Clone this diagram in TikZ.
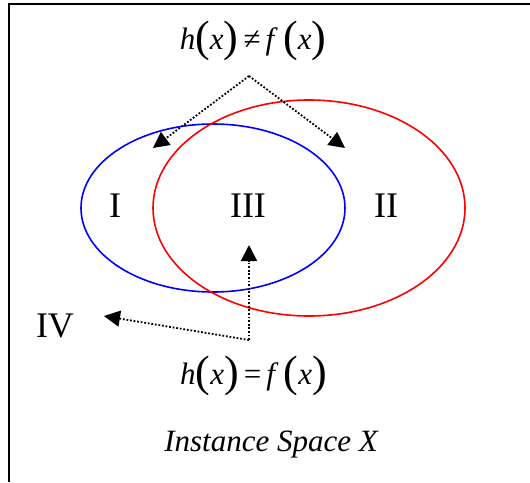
\documentclass[tikz,border=0pt]{standalone}
\usepackage{fontspec}
\setmainfont{Liberation Serif}
\usetikzlibrary{arrows.meta}

\newcommand{\tallparen}[1]{\raisebox{-2pt}{\fontsize{44}{44}\selectfont(}\textit{#1}\raisebox{-2pt}{\fontsize{44}{44}\selectfont)}}

\begin{document}
\begin{tikzpicture}[
    x=1pt, y=-1pt,
    region/.style={font=\fontsize{36}{40}\selectfont, anchor=base, inner sep=0pt},
    formula/.style={font=\fontsize{31}{36}\selectfont, anchor=base, inner sep=0pt},
    pointer/.style={-{Triangle[length=16pt,width=16pt]}, line width=1.8pt, dash pattern=on 1.8pt off 1.8pt}
]
\useasboundingbox (0,0) rectangle (530,482);

% frame of the instance space
\draw[line width=2pt] (9,482) -- (9,4) -- (530,4);

% hypothesis h and target f
\draw[blue, line width=1.6pt] (213,208) ellipse [x radius=132, y radius=84];
\draw[red, line width=1.6pt] (309,208) ellipse [x radius=156, y radius=108];

\node[formula] (neq) at (253,49.5) {\textit{h}\tallparen{x}\,≠\,\textit{f}\,\tallparen{x}};
\node[region] (one) at (115,217) {I};
\node[region] (three) at (248,217) {III};
\node[region] (two) at (386,217) {II};
\node[region] (four) at (55,337) {IV};
\node[formula] (eq) at (253.5,384) {\textit{h}\tallparen{x}\,=\,\textit{f}\,\tallparen{x}};
\node[formula, font=\fontsize{31}{36}\selectfont\itshape] (space) at (271,451.7) {Instance Space X};

\coordinate (split) at (249,76);
\coordinate (tipI) at (153,148);
\coordinate (tipII) at (345,148);
\coordinate (corner) at (249,340);
\coordinate (tipIII) at (249,245);
\coordinate (tipIV) at (104,316);

\draw[pointer] (split) -- (tipI);
\draw[pointer] (split) -- (tipII);
\draw[pointer] (corner) -- (tipIII);
\draw[pointer] (corner) -- (tipIV);

\end{tikzpicture}
\end{document}
